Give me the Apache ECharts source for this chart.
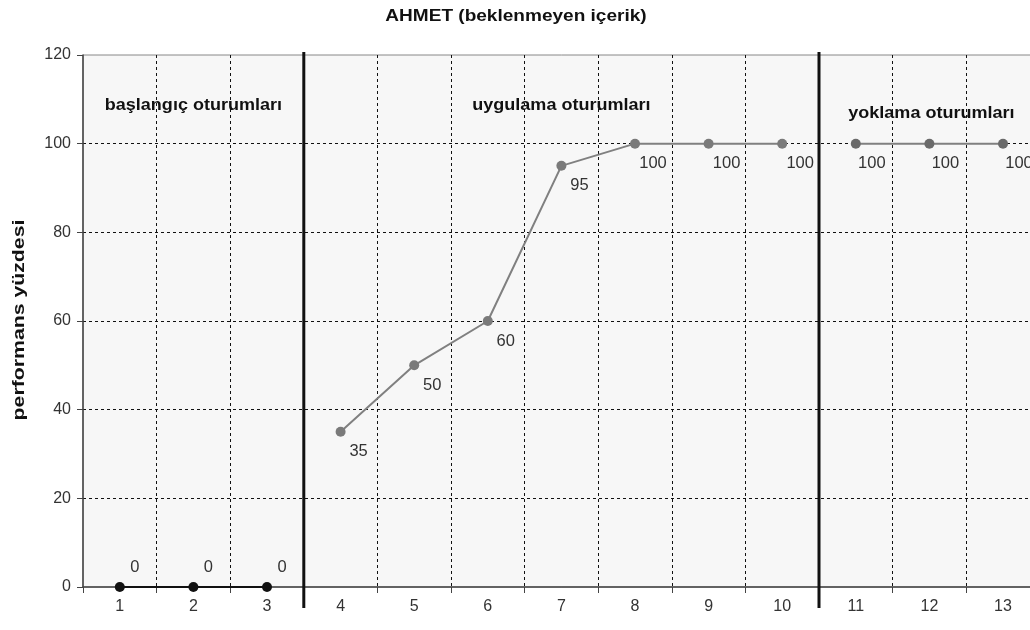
<!DOCTYPE html>
<html>
<head>
<meta charset="utf-8">
<script src="https://cdn.jsdelivr.net/npm/echarts@6/dist/echarts.min.js"></script>
<style>html,body{margin:0;padding:0;background:#fff;overflow:hidden;}#c{width:1100px;height:630px;}</style>
</head>
<body>
<div id="c"></div>
<script>
const titleText = 'AHMET (beklenmeyen içerik)';
const yAxisName = 'performans yüzdesi';
const sessions = ['1','2','3','4','5','6','7','8','9','10','11','12','13'];
const phaseNames = ['başlangıç oturumları', 'uygulama oturumları', 'yoklama oturumları'];
const baselineValues = [0, 0, 0];
const interventionValues = [35, 50, 60, 95, 100, 100, 100];
const probeValues = [100, 100, 100];
const yTicks = [0, 20, 40, 60, 80, 100, 120];

const FONT = '"Liberation Sans", Arial, sans-serif';
const n = sessions.length;
function pad(vals, start) {
  const arr = new Array(n).fill(null);
  vals.forEach((v, i) => { arr[start + i] = v; });
  return arr;
}
const s1 = pad(baselineValues, 0);
const s2 = pad(interventionValues, baselineValues.length);
const s3 = pad(probeValues, baselineValues.length + interventionValues.length);

const chart = echarts.init(document.getElementById('c'), null, { renderer: 'canvas' });
const labelStyle = { show: true, position: 'inside', color: '#333', fontSize: 16.5, fontFamily: FONT };
chart.setOption({
  animation: false,
  backgroundColor: '#fff',
  grid: {
    left: 83, top: 55, width: 956.8, height: 532, show: true,
    backgroundColor: '#f7f7f7', borderColor: '#888', borderWidth: 1
  },
  xAxis: {
    type: 'category', data: sessions, boundaryGap: true,
    axisLine: { lineStyle: { color: '#444', width: 1.5 } },
    axisTick: { show: true, length: 6, lineStyle: { color: '#444' } },
    axisLabel: { color: '#333', fontSize: 16, fontFamily: FONT, margin: 12 },
    splitLine: { show: true, showMinLine: false, lineStyle: { color: '#111', type: [3, 3], width: 1 } }
  },
  yAxis: {
    type: 'value', min: yTicks[0], max: yTicks[yTicks.length - 1], interval: 20,
    axisLine: { show: true, lineStyle: { color: '#444', width: 1.5 } },
    axisTick: { show: true, length: 6, lineStyle: { color: '#444' } },
    axisLabel: { color: '#333', fontSize: 16, fontFamily: FONT, margin: 12 },
    splitLine: { show: true, showMinLine: false, showMaxLine: false, lineStyle: { color: '#111', type: [3, 3], width: 1 } }
  },
  series: [
    {
      type: 'line', data: s1, symbol: 'circle', symbolSize: 10,
      lineStyle: { color: '#111', width: 2 }, itemStyle: { color: '#111' },
      label: Object.assign({}, labelStyle, { offset: [15, -20] }), z: 5
    },
    {
      type: 'line', data: s2, symbol: 'circle', symbolSize: 10,
      lineStyle: { color: '#808080', width: 2 }, itemStyle: { color: '#7a7a7a' },
      label: Object.assign({}, labelStyle, { offset: [18, 20] }), z: 5
    },
    {
      type: 'line', data: s3, symbol: 'circle', symbolSize: 10,
      lineStyle: { color: '#808080', width: 2 }, itemStyle: { color: '#6a6a6a' },
      label: Object.assign({}, labelStyle, { offset: [16, 20] }), z: 5
    }
  ]
});

function px(i) { return chart.convertToPixel({ xAxisIndex: 0 }, i); }
function py(v) { return chart.convertToPixel({ yAxisIndex: 0 }, v); }
const b1 = (px(baselineValues.length - 1) + px(baselineValues.length)) / 2;
const b2i = baselineValues.length + interventionValues.length;
const b2 = (px(b2i - 1) + px(b2i)) / 2;
const yTop = py(120), yBot = py(0);
const c1 = (px(0) + px(baselineValues.length - 1)) / 2;
const c2 = (px(baselineValues.length) + px(b2i - 1)) / 2;
const c3 = (px(b2i) + px(n - 1)) / 2 + 2;
const bold = { fontFamily: FONT, fontWeight: 'bold', fill: '#111', textAlign: 'center', textVerticalAlign: 'middle' };
chart.setOption({
  graphic: [
    { type: 'text', x: 516, y: 16, scaleX: 1.12, style: Object.assign({ text: titleText, fontSize: 17 }, bold), z: 10 },
    { type: 'text', x: 19, y: 320, rotation: Math.PI / 2, scaleX: 1.25, style: Object.assign({ text: yAxisName, fontSize: 17 }, bold), z: 10 },
    { type: 'line', shape: { x1: b1, y1: yTop - 3, x2: b1, y2: yBot + 21 }, style: { stroke: '#111', lineWidth: 3 }, z: 10 },
    { type: 'line', shape: { x1: b2, y1: yTop - 3, x2: b2, y2: yBot + 21 }, style: { stroke: '#111', lineWidth: 3 }, z: 10 },
    { type: 'text', x: c1, y: py(108.7), scaleX: 1.06, style: Object.assign({ text: phaseNames[0], fontSize: 17 }, bold), z: 10 },
    { type: 'text', x: c2, y: py(108.7), scaleX: 1.06, style: Object.assign({ text: phaseNames[1], fontSize: 17 }, bold), z: 10 },
    { type: 'text', x: c3, y: py(106.8), scaleX: 1.06, style: Object.assign({ text: phaseNames[2], fontSize: 17 }, bold), z: 10 }
  ]
});
</script>
</body>
</html>
